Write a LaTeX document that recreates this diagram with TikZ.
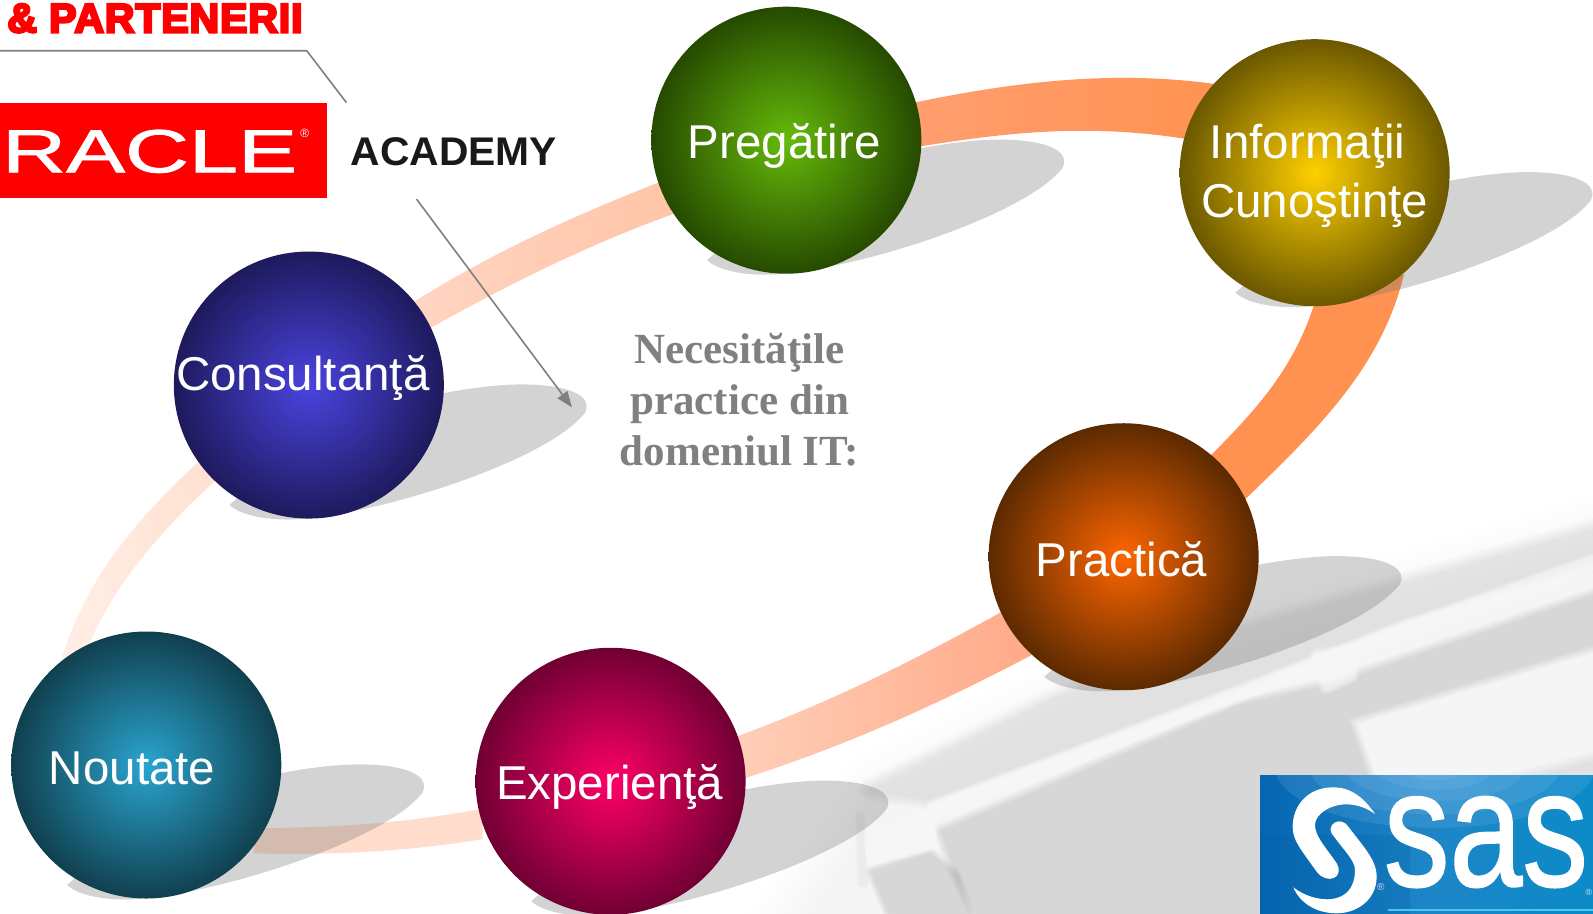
\documentclass[tikz,border=0pt]{standalone}
\usepackage{fontspec}
\setmainfont{Liberation Sans}
\newfontfamily\serifb{Liberation Serif}
\newfontfamily\heavy[FakeBold=6,LetterSpace=2.2]{Liberation Sans Bold}
\newfontfamily\sasfont[FakeBold=1.2]{Liberation Sans}
\usetikzlibrary{shapes.geometric,arrows.meta,calc}
\definecolor{gA}{HTML}{66BB0A}\definecolor{gB}{HTML}{264A00}
\definecolor{yA}{HTML}{FFD000}\definecolor{yB}{HTML}{6B5800}
\definecolor{bA}{HTML}{4A44E0}\definecolor{bB}{HTML}{1E1A5C}
\definecolor{oA}{HTML}{FF6600}\definecolor{oB}{HTML}{5C2A00}
\definecolor{tA}{HTML}{2AA5CF}\definecolor{tB}{HTML}{10404F}
\definecolor{rA}{HTML}{FF0066}\definecolor{rB}{HTML}{700033}
\definecolor{ra1}{HTML}{FF9E70}\definecolor{ra2}{HTML}{FF9250}
\definecolor{rb1}{HTML}{FFCFB8}\definecolor{rb2}{HTML}{FFA988}
\definecolor{rc1}{HTML}{FFDCCB}
\definecolor{rd1}{HTML}{FFEEE6}\definecolor{rd2}{HTML}{FFE0D0}
\definecolor{re1}{HTML}{FFD5C2}\definecolor{re2}{HTML}{FFC5A8}
\definecolor{sa1}{HTML}{0565B0}\definecolor{sa2}{HTML}{0C8AC8}\definecolor{sa3}{HTML}{1E86C6}
\definecolor{sa4}{HTML}{8CC4F0}\definecolor{sa5}{HTML}{0460A8}
\pgfdeclareradialshading{sphG}{\pgfpoint{0bp}{0bp}}{color(0bp)=(gA);color(25bp)=(gB);color(50bp)=(gB)}
\pgfdeclareradialshading{sphY}{\pgfpoint{0bp}{0bp}}{color(0bp)=(yA);color(25bp)=(yB);color(50bp)=(yB)}
\pgfdeclareradialshading{sphB}{\pgfpoint{0bp}{0bp}}{color(0bp)=(bA);color(25bp)=(bB);color(50bp)=(bB)}
\pgfdeclareradialshading{sphO}{\pgfpoint{0bp}{0bp}}{color(0bp)=(oA);color(25bp)=(oB);color(50bp)=(oB)}
\pgfdeclareradialshading{sphT}{\pgfpoint{0bp}{0bp}}{color(0bp)=(tA);color(25bp)=(tB);color(50bp)=(tB)}
\pgfdeclareradialshading{sphR}{\pgfpoint{0bp}{0bp}}{color(0bp)=(rA);color(25bp)=(rB);color(50bp)=(rB)}
\tikzset{
 sphere/.style={ellipse,inner sep=0pt,minimum width=270pt,minimum height=267pt,shading=#1},
 sphtext/.style={text=white,font=\fontsize{47.5}{59}\selectfont,align=center,inner sep=0pt},
 shadowblob/.style={fill=black!55,opacity=.31},
 ribbon/.style={draw=none},
 pointer/.style={draw=black!50,line width=1.6pt},
}
\newcommand{\shadowat}[1]{%
 \fill[shadowblob,shift={(#1)}] (-78,118) .. controls (-68,128) and (-40,134) .. (-10,132)
   .. controls (80,125) and (238,72) .. (272,27)
   .. controls (282,5) and (238,-3) .. (192,0)
   .. controls (120,5) and (40,30) .. (0,50) -- cycle;}
% soft-edged polygon: colour, opacity of each of 12 layers, blur width, path
\newcommand{\softpoly}[4]{%
 \foreach \sw in {1,0.9,...,0}{%
  \begin{scope}[transparency group,opacity=#2]
   \path[fill=#1,draw=#1,line join=round,line width=\sw*#3] #4;
  \end{scope}}}
\begin{document}
\begin{tikzpicture}[x=1.01594pt,y=-1.01594pt]
\useasboundingbox (0,0) rectangle (1568,899);
\fill[white] (0,0) rectangle (1568,899);
% background photograph (blurred keyboard)
\begin{scope}[x=1pt,y=-1pt]
\clip (0,0) rectangle (1593,913);
\softpoly{black}{.003}{110pt}{(790,950) -- (890,800) -- (1120,690) -- (1700,520) -- (1700,950) -- cycle}
\softpoly{black}{.006}{24pt}{(870,790) -- (1053,700) -- (1240,630) -- (1700,500) -- (1700,530) -- (1400,618) -- (1240,685) -- (927,798) -- cycle}
\softpoly{black}{.012}{18pt}{(942,832) -- (1240,706) -- (1330,686) -- (1700,560) -- (1700,612) -- (1347,718) -- (1375,800) -- (1260,790) -- (1260,950) -- (995,950) -- (958,875) -- cycle}
\softpoly{black}{.009}{24pt}{(1470,795) -- (1700,735) -- (1700,820) -- cycle}
\softpoly{black}{.010}{14pt}{(872,872) -- (930,854) -- (955,875) -- (980,950) -- (905,950) -- cycle}
\softpoly{black}{.005}{8pt}{(858,815) -- (862,815) -- (866,885) -- (860,885) -- cycle}
\softpoly{white}{.10}{10pt}{(930,806) -- (1240,688) -- (1400,626) -- (1700,520) -- (1700,530) -- (1400,636) -- (1240,698) -- (933,816) -- cycle}
\softpoly{white}{.10}{10pt}{(868,838) -- (930,812) -- (934,846) -- (870,862) -- cycle}
\softpoly{white}{.10}{14pt}{(1316,655) -- (1350,650) -- (1352,676) -- (1326,688) -- cycle}
\end{scope}
% ribbon
\shade[ribbon,left color=ra1,right color=ra2] (895,102) .. controls (1000,80) and (1100,68) .. (1205,84) -- (1175,138) .. controls (1080,122) and (1000,128) .. (895,146) -- cycle;
\fill[ribbon,ra2] (1382,270) .. controls (1360,360) and (1300,420) .. (1225,492) -- (1190,450) .. controls (1240,400) and (1275,360) .. (1295,295) -- cycle;
\shade[ribbon,left color=rb1,right color=rb2] (725,725) .. controls (820,690) and (900,650) .. (990,600) -- (1015,645) .. controls (920,695) and (830,735) .. (730,767) -- cycle;
\fill[ribbon,rc1] (475,796) .. controls (400,810) and (330,815) .. (250,815) -- (250,840) .. controls (330,842) and (400,838) .. (475,826) -- cycle;
\shade[ribbon,left color=rd1,right color=rd2] (60,650) .. controls (85,570) and (130,515) .. (200,450) -- (215,470) .. controls (150,530) and (110,580) .. (85,640) -- cycle;
\shade[ribbon,left color=re1,right color=re2] (400,302) .. controls (480,250) and (570,210) .. (655,177) -- (670,208) .. controls (580,240) and (500,280) .. (420,325) -- cycle;
% shadows
\shadowat{774,138}\shadowat{1294,170}\shadowat{304,379}\shadowat{1106,548}\shadowat{144,753}\shadowat{601,769}
% spheres
\node[sphere=sphG] (preg) at (774,138) {};
\node[sphere=sphY] (info) at (1294,170) {};
\node[sphere=sphB] (cons) at (304,379) {};
\node[sphere=sphO] (prac) at (1106,548) {};
\node[sphere=sphT] (nout) at (144,753) {};
\node[sphere=sphR] (expe) at (601,769) {};
\node[sphtext] (tpreg) at (772,144) {Pregătire};
\node[sphtext] (tinfo) at (1294,173) {Informaţii\hspace{14pt}\mbox{}\\Cunoştinţe};
\node[sphtext] (tcons) at (298,372) {Consultanţă};
\node[sphtext] (tprac) at (1104,550) {Practică};
\node[sphtext] (tnout) at (130,756) {Noutate};
\node[sphtext] (texpe) at (600,775) {Experienţă};
% centre text
\node[text=black!50,align=center,inner sep=0pt,font=\serifb\bfseries\fontsize{43}{51}\selectfont] (need) at (728,393) {Necesităţile\\practice din\\domeniul IT:};
% header
\node[anchor=west,text=red,inner sep=0pt,font=\heavy\fontsize{41}{50}\selectfont] (part) at (7,18) {\& PARTENERII};
\coordinate (l0) at (0,50); \coordinate (l1) at (302,50); \coordinate (l2) at (341,101);
\coordinate (a0) at (410,196); \coordinate (a1) at (563,401);
\draw[pointer] (l0) -- (l1) -- (l2);
\draw[pointer,-{Triangle[length=16pt,width=12pt]}] (a0) -- (a1);
% Oracle
\node[anchor=north west,fill=red,minimum width=327pt,minimum height=95.5pt,inner sep=0pt] (orbox) at (0,101) {};
\node[anchor=west,text=white,inner sep=0pt,font=\sasfont\fontsize{61}{61}\selectfont] (ortext) at (2,149) {\scalebox{1.45}[1]{RACLE}};
\node[anchor=center,text=white,inner sep=0pt,font=\fontsize{12}{12}\selectfont] (orreg) at (300,131) {®};
\node[anchor=west,text=black!90,inner sep=0pt,font=\bfseries\fontsize{40}{40}\selectfont] (acad) at (345,149) {\scalebox{1.02}[1]{ACADEMY}};
% SAS
\begin{scope}[x=1pt,y=-1pt,shift={(1260,775)}]
 \clip (0,0) rectangle (333,138);
 \shade[left color=sa1,right color=sa2,middle color=sa3] (0,0) rectangle (333,138);
 \foreach \ra in {160,125,90,60,35}{\fill[sa4,opacity=.16] (175,-8) ellipse ({\ra} and {\ra*.38});}
 \shade[top color=sa5,bottom color=sa5,opacity=.25] (0,60) rectangle (150,138);
 \fill[cyan!70!white] (128,134) rectangle (333,135.5);
\end{scope}
\node[anchor=base west,text=white,inner sep=0pt,font=\sasfont\fontsize{166}{170}\selectfont] (sas) at (1362,872) {\scalebox{0.79}[1]{sas}};
\node[text=white!85!blue,inner sep=0pt,font=\fontsize{10}{10}\selectfont] (sasr1) at (1359,873) {®};
\node[text=white!85!blue,inner sep=0pt,font=\fontsize{9}{9}\selectfont] (sasr2) at (1564,878) {®};
\begin{scope}[x=1pt,y=-1pt,shift={(1200,700)},x=0.3333pt,y=-0.3333pt]
 \fill[white] (525,342) .. controls (490,290) and (450,262) .. (400,262)
   .. controls (320,262) and (278,320) .. (278,380) .. controls (278,420) and (300,445) .. (350,515)
   .. controls (380,555) and (435,535) .. (410,490) .. controls (380,445) and (345,410) .. (345,375)
   .. controls (345,330) and (440,280) .. (525,342) -- cycle;
 \fill[white] (395,400) .. controls (380,375) and (420,345) .. (445,380)
   .. controls (490,440) and (530,480) .. (530,530) .. controls (530,600) and (470,640) .. (410,640)
   .. controls (350,640) and (300,610) .. (280,562) .. controls (340,610) and (465,625) .. (465,510)
   .. controls (465,480) and (430,450) .. (395,400) -- cycle;
\end{scope}
\end{tikzpicture}
\end{document}
